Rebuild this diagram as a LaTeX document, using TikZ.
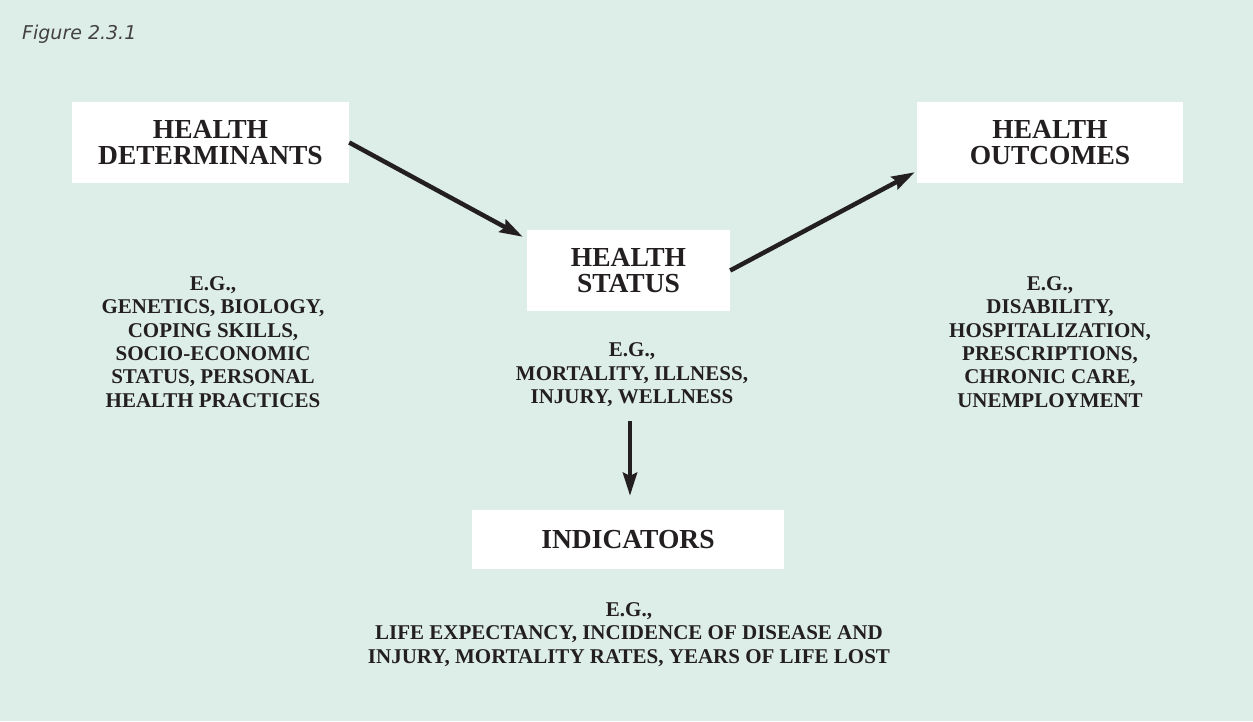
\documentclass[tikz,border=0pt]{standalone}
\usepackage{fontspec}
\setmainfont{Liberation Serif}
\setsansfont{DejaVu Sans}
\usetikzlibrary{arrows.meta,calc}
\definecolor{bg}{RGB}{221,237,232}
\definecolor{ink}{RGB}{35,31,32}
\begin{document}
\begin{tikzpicture}[x=1pt,y=-1pt,
  box/.style={fill=white, draw=none, inner sep=0pt, font=\bfseries\fontsize{27.5}{25.5}\selectfont, text=ink, align=center},
  body/.style={inner sep=0pt, font=\bfseries\fontsize{21}{23.4}\selectfont, text=ink, align=center},
  arr/.style={draw=ink, line width=4.5pt, -{Stealth[length=23pt,width=14pt,inset=3pt]}}]
\fill[bg] (0,0) rectangle (1253,721);
\useasboundingbox (0,0) rectangle (1253,721);
\node[anchor=base west, inner sep=0pt, font=\sffamily\itshape\fontsize{19}{23}\selectfont, text=ink!85] (fig) at (22,39) {Figure 2.3.1};
\node[box, minimum width=277pt, minimum height=81pt] (det) at (210.5,142.5) {HEALTH\\DETERMINANTS};
\node[box, minimum width=203pt, minimum height=81pt] (status) at (628.5,270.5) {HEALTH\\STATUS};
\node[box, minimum width=266pt, minimum height=81pt] (out) at (1050,142.5) {HEALTH\\OUTCOMES};
\node[box, minimum width=312pt, minimum height=59pt] (ind) at (628,539.5) {INDICATORS};
\node[body] (detx) at (213,342) {E.G.,\\GENETICS, BIOLOGY,\\COPING SKILLS,\\SOCIO-ECONOMIC\\STATUS, PERSONAL\\HEALTH PRACTICES};
\node[body] (statx) at (632,375) {E.G.,\\MORTALITY, ILLNESS,\\INJURY, WELLNESS};
\node[body] (outx) at (1050,342) {E.G.,\\DISABILITY,\\HOSPITALIZATION,\\PRESCRIPTIONS,\\CHRONIC CARE,\\UNEMPLOYMENT};
\node[body] (indx) at (629,634.5) {E.G.,\\LIFE EXPECTANCY, INCIDENCE OF DISEASE AND\\INJURY, MORTALITY RATES, YEARS OF LIFE LOST};
\coordinate (a3) at (630,421);
\draw[arr] (det.east) -- ($(status.north west)+(-4,7)$);
\draw[arr] (status.east) -- ($(out.south west)+(-2,-11)$);
\draw[arr] (a3) -- ($(a3 |- ind.north)+(0,-14)$);
\end{tikzpicture}
\end{document}
